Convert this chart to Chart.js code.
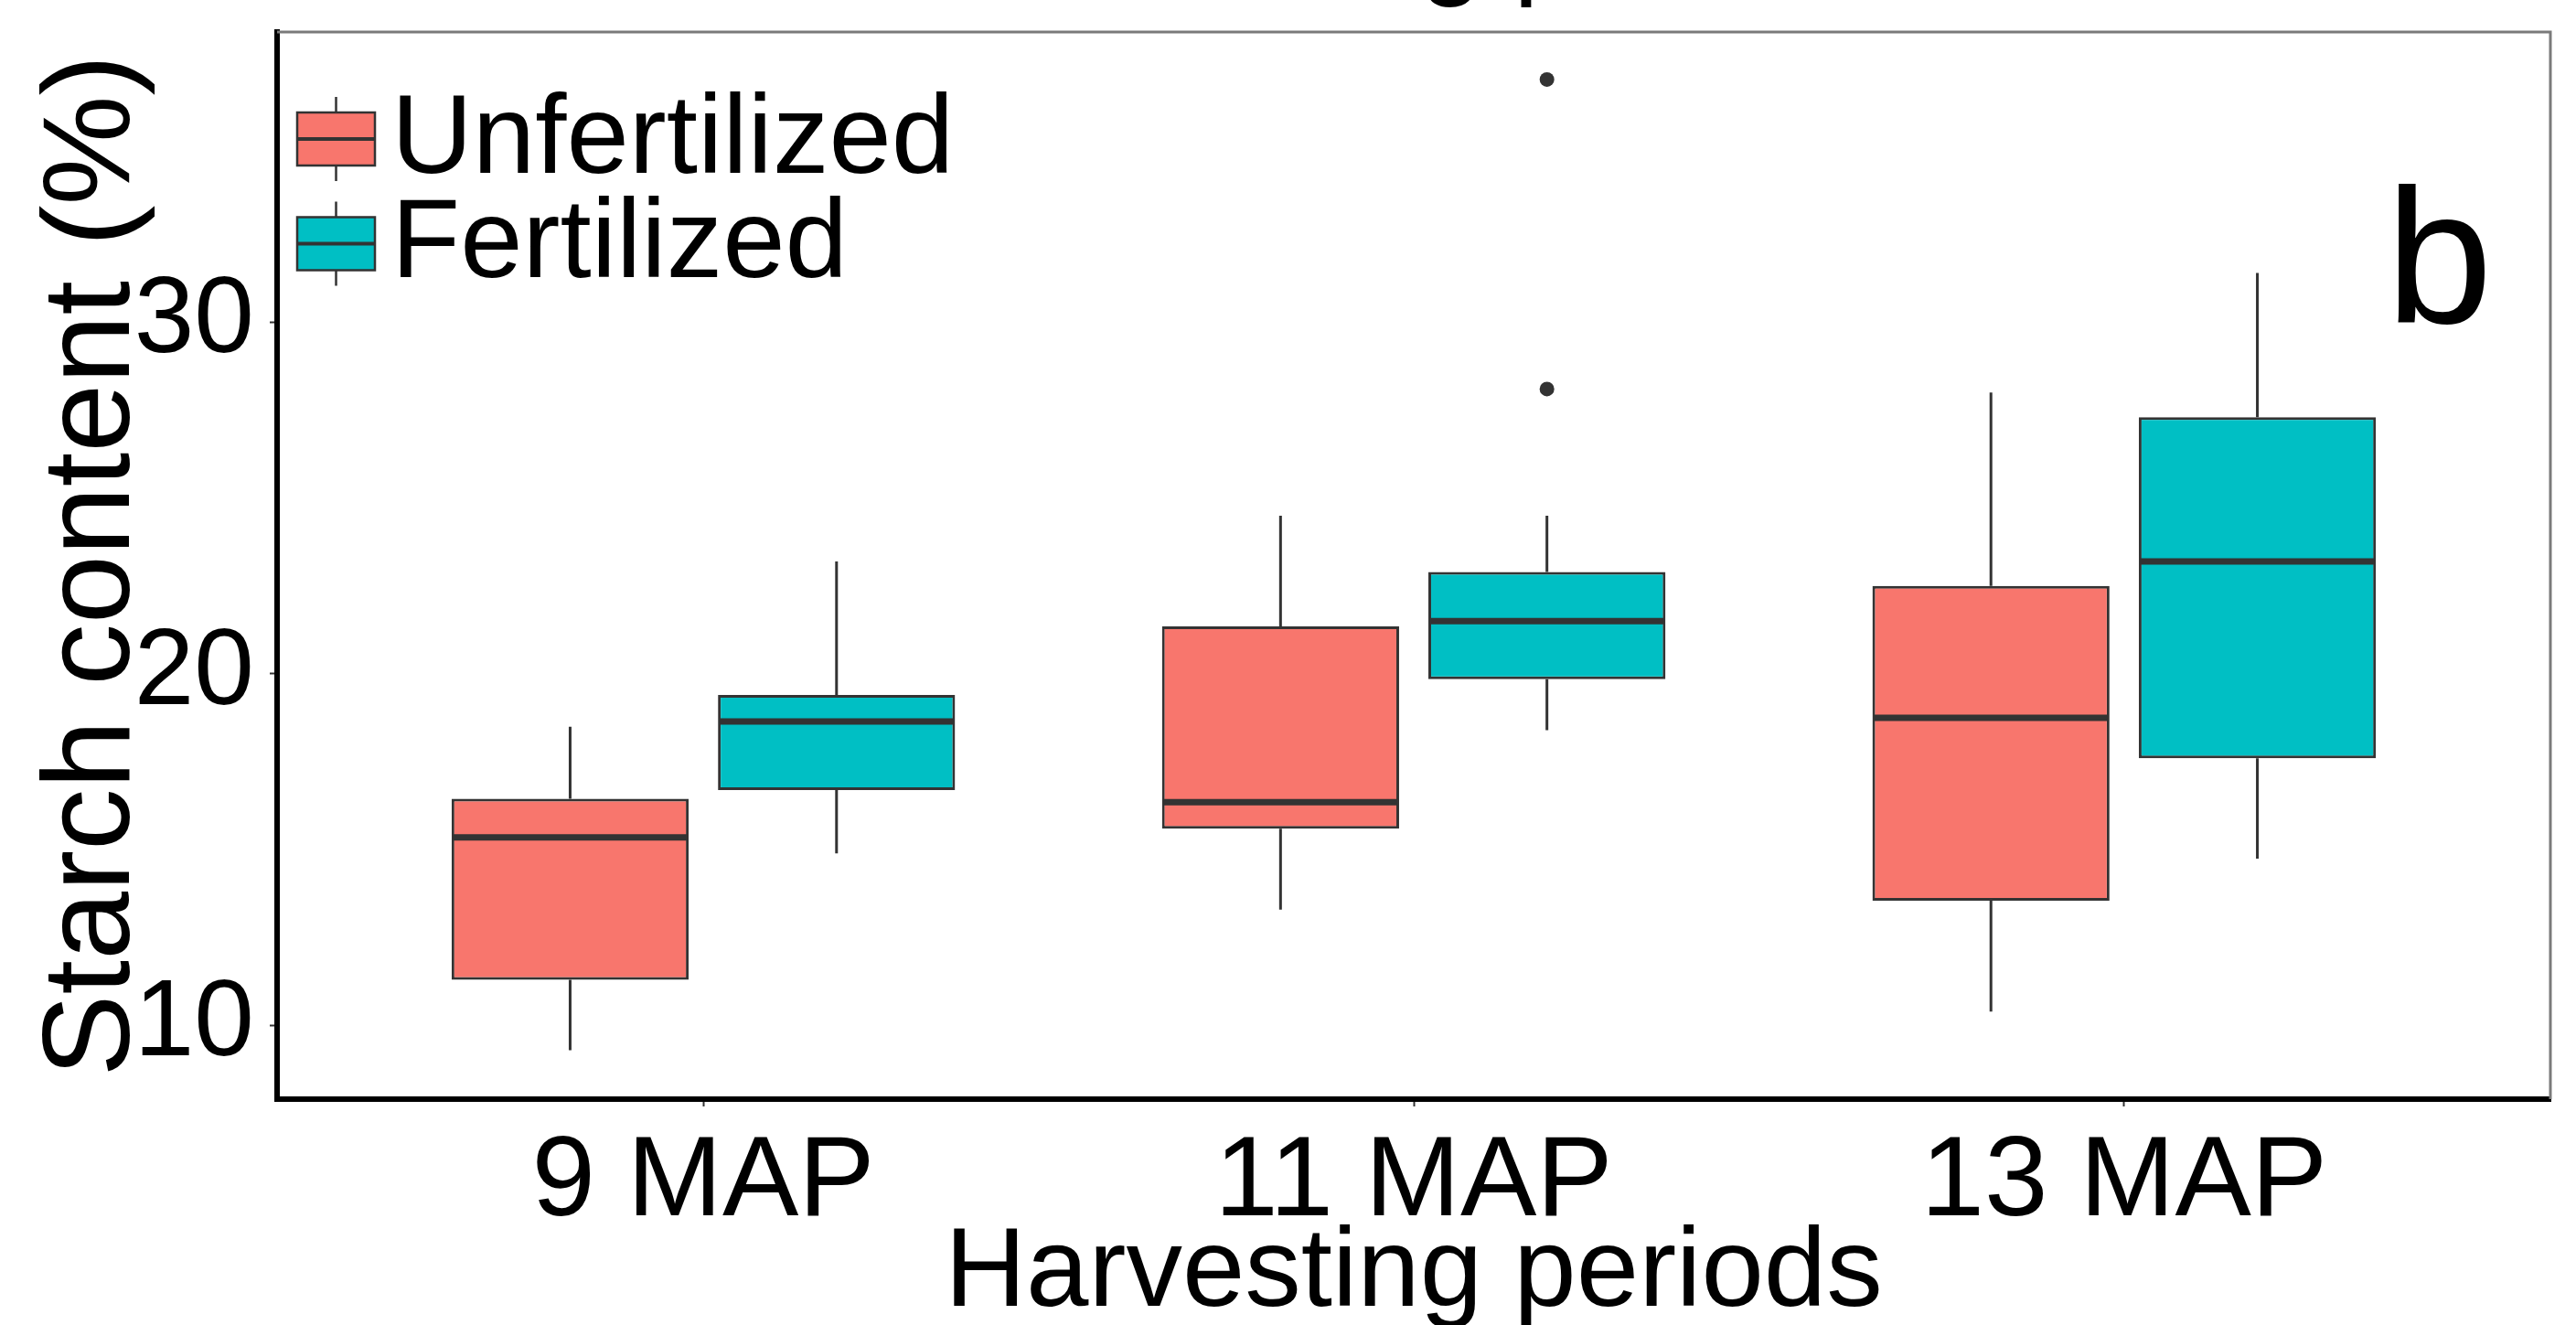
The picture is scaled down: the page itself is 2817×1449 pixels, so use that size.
<!DOCTYPE html>
<html>
<head>
<meta charset="utf-8">
<title>Starch content by harvesting period</title>
<script src="https://cdn.jsdelivr.net/npm/chart.js@4.4.1/dist/chart.umd.min.js"></script>
<style>
  html, body { margin: 0; padding: 0; background: #fff; }
  .chart_box { width: 2817px; height: 1449px; position: relative; }
</style>
</head>
<body>
<div class="chart_box"><canvas id="chart"></canvas></div>
<script>
// data
const periods = ["9 MAP", "11 MAP", "13 MAP"];
const yTicks = [10, 20, 30];

const unfMin = [9.3, 13.3, 10.4];
const unfQ1 = [11.3, 15.6, 13.55];
const unfMed = [15.35, 16.35, 18.75];
const unfQ3 = [16.45, 21.35, 22.5];
const unfMax = [18.5, 24.5, 28.0];
const unfOut = [[], [], []];

const ferMin = [14.9, 18.4, 14.75];
const ferQ1 = [16.7, 19.85, 17.6];
const ferMed = [18.65, 21.5, 23.2];
const ferQ3 = [19.4, 22.9, 27.3];
const ferMax = [23.2, 24.5, 31.4];
const ferOut = [[], [28.1, 36.9], []];

const FONT = "'Liberation Sans', Arial, sans-serif";
const LINE = "#333333";

const stats = [
  { min: unfMin, med: unfMed, max: unfMax, out: unfOut },
  { min: ferMin, med: ferMed, max: ferMax, out: ferOut },
];

// whiskers, medians, outliers, frame, legend
const boxExtras = {
  id: "boxExtras",
  afterDatasetsDraw(chart) {
    const ctx = chart.ctx;
    const y = chart.scales.y;
    const area = chart.chartArea;

    chart.data.datasets.forEach((ds, di) => {
      const meta = chart.getDatasetMeta(di);
      const s = stats[di];
      meta.data.forEach((bar, i) => {
        const half = bar.width / 2;
        const q1 = ds.data[i].y[0];
        const q3 = ds.data[i].y[1];
        ctx.save();
        ctx.strokeStyle = LINE;
        ctx.lineWidth = 3;
        ctx.beginPath();
        ctx.moveTo(bar.x, y.getPixelForValue(s.max[i]));
        ctx.lineTo(bar.x, y.getPixelForValue(q3));
        ctx.moveTo(bar.x, y.getPixelForValue(q1));
        ctx.lineTo(bar.x, y.getPixelForValue(s.min[i]));
        ctx.stroke();

        ctx.lineWidth = 7;
        ctx.beginPath();
        const my = y.getPixelForValue(s.med[i]);
        ctx.moveTo(bar.x - half + 2, my);
        ctx.lineTo(bar.x + half - 2, my);
        ctx.stroke();

        ctx.fillStyle = LINE;
        s.out[i].forEach((v) => {
          ctx.beginPath();
          ctx.arc(bar.x, y.getPixelForValue(v), 8, 0, Math.PI * 2);
          ctx.fill();
        });
        ctx.restore();
      });
    });

    ctx.save();
    // grey top / right frame
    ctx.strokeStyle = "#7a7a7a";
    ctx.lineWidth = 3;
    ctx.beginPath();
    ctx.moveTo(area.left, area.top);
    ctx.lineTo(area.right, area.top);
    ctx.lineTo(area.right, area.bottom);
    ctx.stroke();

    // legend
    chart.data.datasets.forEach((ds, di) => {
      const cy = area.top + 117 + di * 114.5;
      const x0 = area.left + 22;
      const x1 = area.left + 107;
      const cx = (x0 + x1) / 2;
      ctx.strokeStyle = LINE;
      ctx.lineWidth = 2.5;
      ctx.beginPath();
      ctx.moveTo(cx, cy - 46);
      ctx.lineTo(cx, cy + 46);
      ctx.stroke();
      ctx.fillStyle = ds.backgroundColor;
      ctx.fillRect(x0, cy - 29, x1 - x0, 58);
      ctx.strokeRect(x0, cy - 29, x1 - x0, 58);
      ctx.lineWidth = 4;
      ctx.beginPath();
      ctx.moveTo(x0, cy);
      ctx.lineTo(x1, cy);
      ctx.stroke();

      ctx.fillStyle = "#000";
      ctx.font = "123px " + FONT;
      ctx.textAlign = "left";
      ctx.textBaseline = "middle";
      ctx.fillText(ds.label, area.left + 125, cy + 3);
    });

    // panel letter
    ctx.font = "210px " + FONT;
    ctx.textBaseline = "alphabetic";
    ctx.fillText("b", area.right - 180, area.top + 318);

    // bottom of the panel above, cut off by the edge
    ctx.font = "123px " + FONT;
    ctx.textAlign = "center";
    ctx.fillText("Harvesting periods", (area.left + area.right) / 2, -17);
    ctx.restore();
  },
};

const ctxChart = document.getElementById("chart");
new Chart(ctxChart, {
  type: "bar",
  data: {
    datasets: [
      {
        label: "Unfertilized",
        data: periods.map((p, i) => ({ x: i + 1, y: [unfQ1[i], unfQ3[i]] })),
        backgroundColor: "#F8766D",
        borderColor: LINE,
        borderWidth: 3,
        borderSkipped: false,
      },
      {
        label: "Fertilized",
        data: periods.map((p, i) => ({ x: i + 1, y: [ferQ1[i], ferQ3[i]] })),
        backgroundColor: "#00BFC4",
        borderColor: LINE,
        borderWidth: 3,
        borderSkipped: false,
      },
    ],
  },
  options: {
    responsive: true,
    maintainAspectRatio: false,
    devicePixelRatio: 1,
    animation: false,
    categoryPercentage: 0.75,
    barPercentage: 0.89,
    layout: { padding: { top: 35, right: 28, left: 0, bottom: 0 } },
    plugins: {
      legend: { display: false },
      tooltip: { enabled: false },
    },
    scales: {
      x: {
        type: "linear",
        min: 0.4,
        max: 3.6,
        bounds: "data",
        offset: false,
        afterBuildTicks: (scale) => {
          scale.ticks = periods.map((p, i) => ({ value: i + 1 }));
        },
        afterFit: (scale) => {
          scale.height = 247;
          scale.paddingLeft = 0;
          scale.paddingRight = 0;
        },
        ticks: {
          callback: (v, i) => periods[i],
          color: "#000",
          font: { family: FONT, size: 125, lineHeight: 1 },
          padding: 22,
          maxRotation: 0,
          autoSkip: false,
        },
        grid: { offset: false, drawOnChartArea: false, drawTicks: true, tickLength: 8, tickWidth: 2, tickColor: LINE },
        border: { color: "#000", width: 6 },
        title: {
          display: true,
          text: "Harvesting periods",
          color: "#000",
          font: { family: FONT, size: 123, lineHeight: 1 },
          padding: { top: 0, bottom: -7 },
        },
      },
      y: {
        min: 7.91,
        max: 38.25,
        bounds: "data",
        beginAtZero: false,
        afterBuildTicks: (scale) => {
          scale.ticks = yTicks.map((v) => ({ value: v }));
        },
        afterFit: (scale) => {
          scale.width = 303;
          scale.paddingTop = 0;
          scale.paddingBottom = 0;
        },
        ticks: {
          color: "#000",
          font: { family: FONT, size: 118, lineHeight: 1 },
          padding: 17,
        },
        grid: { drawOnChartArea: false, drawTicks: true, tickLength: 8, tickWidth: 2, tickColor: LINE },
        border: { color: "#000", width: 6 },
        title: {
          display: true,
          text: "Starch content (%)",
          color: "#000",
          font: { family: FONT, size: 135, lineHeight: 1 },
          padding: { top: 36, bottom: 0 },
        },
      },
    },
  },
  plugins: [boxExtras],
});
</script>
</body>
</html>
